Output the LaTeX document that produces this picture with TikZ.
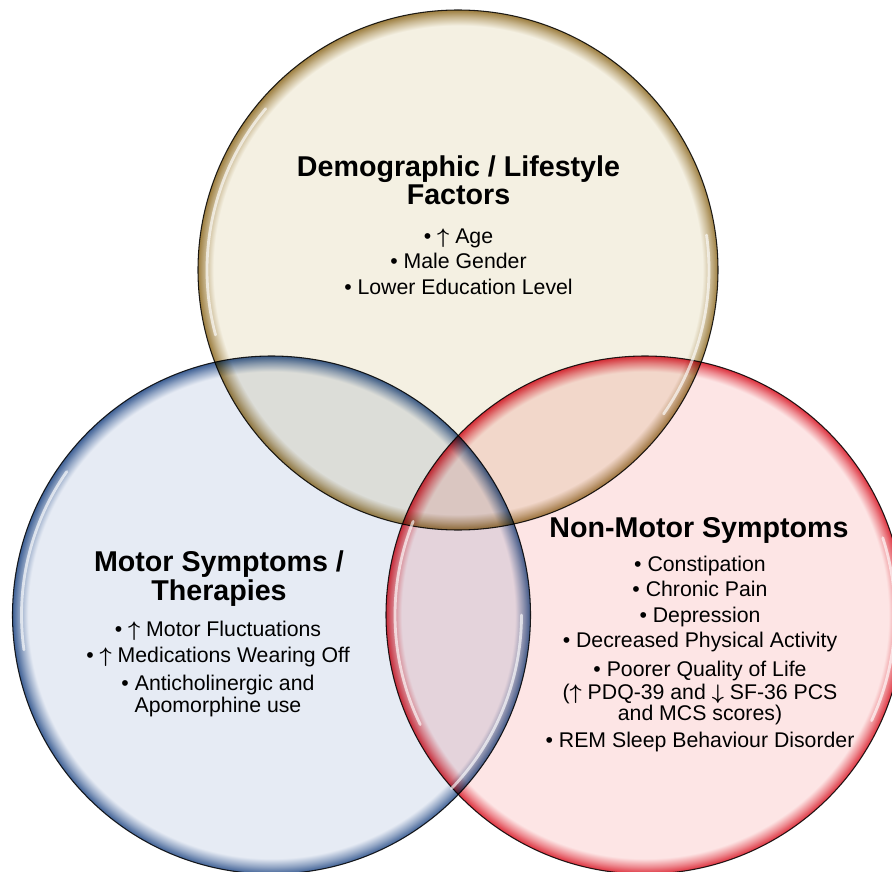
\documentclass[tikz,border=0pt]{standalone}
\usepackage{fontspec}
\setmainfont{Liberation Sans}
\usepackage{xcolor}
\usepackage{tikz}

\definecolor{demofill}{HTML}{F4F0E2}
\definecolor{demorim}{HTML}{93712D}
\definecolor{motorfill}{HTML}{E6EBF4}
\definecolor{motorrim}{HTML}{2B508A}
\definecolor{nonmotorfill}{HTML}{FDE5E5}
\definecolor{nonmotorrim}{HTML}{DA1C2A}

\pgfdeclareradialshading{demoglass}{\pgfpointorigin}{color(0bp)=(demofill); color(23.5bp)=(demofill); color(24.3bp)=(demorim!45!demofill); color(25bp)=(demorim!90!demofill); color(50bp)=(demorim)}
\pgfdeclareradialshading{motorglass}{\pgfpointorigin}{color(0bp)=(motorfill); color(23.5bp)=(motorfill); color(24.3bp)=(motorrim!45!motorfill); color(25bp)=(motorrim!90!motorfill); color(50bp)=(motorrim)}
\pgfdeclareradialshading{nonmotorglass}{\pgfpointorigin}{color(0bp)=(nonmotorfill); color(23.5bp)=(nonmotorfill); color(24.3bp)=(nonmotorrim!45!nonmotorfill); color(25bp)=(nonmotorrim!90!nonmotorfill); color(50bp)=(nonmotorrim)}

\newcommand{\up}{\mbox{\boldmath$\uparrow$}}
\newcommand{\down}{\mbox{\boldmath$\downarrow$}}

\begin{document}
\begin{tikzpicture}[
    venn/.style={circle, inner sep=0pt, draw=black!85, line width=0.6pt, shade},
    title/.style={font=\fontsize{16.3}{16.5}\selectfont\bfseries, align=center, inner sep=0pt, anchor=base},
    items/.style={font=\fontsize{12.1}{14.5}\selectfont, align=center, inner sep=0pt, anchor=base},
    shine/.style={white, line width=1.6pt, opacity=0.65, line cap=round}
]
\useasboundingbox (0,0) rectangle (17.84,-17.44);

% the three sets
\begin{scope}[blend mode=multiply]
\node[venn, minimum size=10.4cm, shading=demoglass] (demo) at (9.16,-5.4) {};
\node[venn, minimum size=10.36cm, shading=motorglass] (motor) at (5.43,-12.3) {};
\node[venn, minimum size=10.36cm, shading=nonmotorglass] (nonmotor) at (12.9,-12.3) {};
\end{scope}

% glass highlights
\draw[shine] ([shift={(140:5.02)}]demo.center) arc[start angle=140, end angle=195, radius=5.02];
\draw[shine] ([shift={(-35:5.02)}]demo.center) arc[start angle=-35, end angle=8, radius=5.02];
\draw[shine] ([shift={(145:5.0)}]motor.center) arc[start angle=145, end angle=188, radius=5.0];
\draw[shine] ([shift={(-44:5.0)}]motor.center) arc[start angle=-44, end angle=0, radius=5.0];
\draw[shine] ([shift={(158:5.0)}]nonmotor.center) arc[start angle=158, end angle=206, radius=5.0];
\draw[shine] ([shift={(-25:5.0)}]nonmotor.center) arc[start angle=-25, end angle=18, radius=5.0];

% labels (anchored at the baseline of their last line)
\node[title] (demotitle) at (9.17,-4.10) {Demographic / Lifestyle\\Factors};
\node[items] (demolist) at (9.17,-5.88) {• \up\ Age\\• Male Gender\\• Lower Education Level};

\node[title] (motortitle) at (4.38,-12.0) {Motor Symptoms /\\Therapies};
\node[items] (motorlist) at (4.36,-14.24) {• \up\ Motor Fluctuations\\[0.4pt]• \up\ Medications Wearing Off\\[1pt]• Anticholinergic and\\[-2pt]Apomorphine use};

\node[title] (nonmotortitle) at (13.98,-10.74) {Non-Motor Symptoms};
\node[items] (nonmotorlist) at (14.0,-14.94) {• Constipation\\• Chronic Pain\\• Depression\\• Decreased Physical Activity\\[1.5pt]• Poorer Quality of Life\\[-1.4pt](\up\ PDQ-39 and \down\ SF-36 PCS\\[-2pt]and MCS scores)\\[0.3pt]• REM Sleep Behaviour Disorder};

\end{tikzpicture}
\end{document}
